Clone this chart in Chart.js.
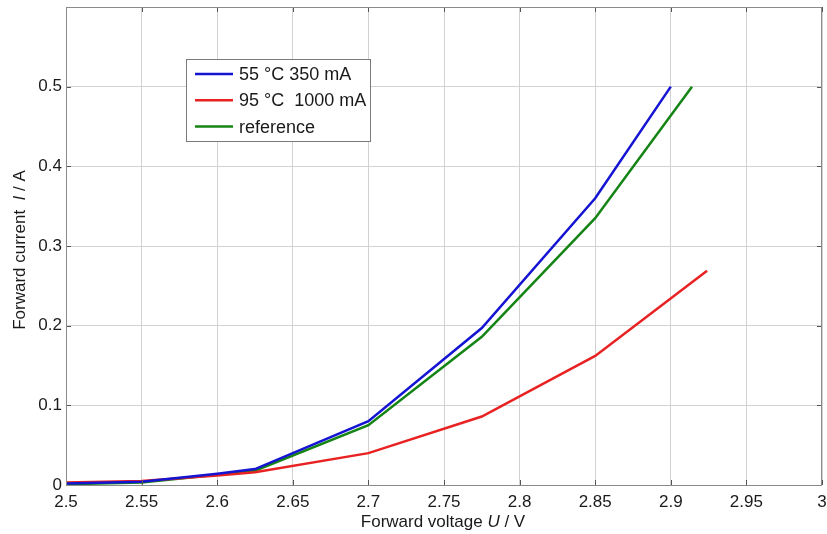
<!DOCTYPE html>
<html>
<head>
<meta charset="utf-8">
<script src="https://cdn.jsdelivr.net/npm/chart.js@4/dist/chart.umd.min.js"></script>
<style>
  html, body { margin: 0; padding: 0; background: #fff; }
  #wrap { width: 827px; height: 534px; }
</style>
</head>
<body>
<div id="wrap"><canvas id="chart"></canvas></div>
<script>
// values
const voltage55 = [2.5, 2.55, 2.6, 2.625, 2.7, 2.775, 2.85, 2.9];
const current55 = [0.002, 0.004, 0.014, 0.02, 0.08, 0.197, 0.36, 0.5];

const voltage95 = [2.5, 2.55, 2.6, 2.625, 2.7, 2.775, 2.85, 2.924];
const current95 = [0.003, 0.005, 0.012, 0.016, 0.04, 0.086, 0.162, 0.269];

const voltageRef = [2.5, 2.55, 2.6, 2.625, 2.7, 2.775, 2.85, 2.914];
const currentRef = [0.001, 0.003, 0.013, 0.018, 0.075, 0.186, 0.335, 0.5];

const seriesLabels = ["55 \u00B0C 350 mA", "95 \u00B0C  1000 mA", "reference"];
const seriesColors = ["#1414d2", "#e82222", "#148414"];

const xTicks = [2.5, 2.55, 2.6, 2.65, 2.7, 2.75, 2.8, 2.85, 2.9, 2.95, 3];
const yTicks = [0, 0.1, 0.2, 0.3, 0.4, 0.5, 0.6];

const FONT = "'Liberation Sans', Arial, sans-serif";

function pts(xs, ys) {
  return xs.map((x, i) => ({ x: x, y: ys[i] }));
}

// box, inner tick marks, legend and axis titles
const decor = {
  id: "decor",
  afterDraw(chart) {
    const ctx = chart.ctx;
    const a = chart.chartArea;
    const xs = chart.scales.x, ys = chart.scales.y;
    ctx.save();

    // tick marks on the inside of the box
    ctx.strokeStyle = "#555";
    ctx.lineWidth = 1;
    ctx.beginPath();
    xTicks.forEach(v => {
      const px = Math.round(xs.getPixelForValue(v)) + 0.5;
      ctx.moveTo(px, a.bottom); ctx.lineTo(px, a.bottom - 5);
      ctx.moveTo(px, a.top); ctx.lineTo(px, a.top + 5);
    });
    yTicks.forEach(v => {
      const py = Math.round(ys.getPixelForValue(v)) + 0.5;
      ctx.moveTo(a.left, py); ctx.lineTo(a.left + 5, py);
      ctx.moveTo(a.right, py); ctx.lineTo(a.right - 5, py);
    });
    ctx.stroke();

    // box
    ctx.strokeStyle = "#8a8a8a";
    ctx.strokeRect(Math.round(a.left) + 0.5, Math.round(a.top) + 0.5,
                   Math.round(a.right - a.left) - 1, Math.round(a.bottom - a.top));

    // legend
    const lx = 186, ly = 59, lw = 184, lh = 82;
    ctx.fillStyle = "#fff";
    ctx.fillRect(lx, ly, lw, lh);
    ctx.strokeStyle = "#7a7a7a";
    ctx.strokeRect(lx + 0.5, ly + 0.5, lw, lh);
    ctx.font = "18px " + FONT;
    ctx.textBaseline = "middle";
    ctx.textAlign = "left";
    chart.data.datasets.forEach((ds, i) => {
      const ry = 74 + i * 26.3;
      ctx.strokeStyle = ds.borderColor;
      ctx.lineWidth = 2.5;
      ctx.beginPath();
      ctx.moveTo(195, ry); ctx.lineTo(233, ry);
      ctx.stroke();
      ctx.fillStyle = "#1a1a1a";
      ctx.fillText(ds.label, 239, ry + 1);
    });

    // axis titles with italic symbols
    function mixed(parts, cx, cy) {
      let total = 0;
      parts.forEach(p => { ctx.font = (p[1] ? "italic " : "") + "17px " + FONT; total += ctx.measureText(p[0]).width; });
      let x = cx - total / 2;
      parts.forEach(p => {
        ctx.font = (p[1] ? "italic " : "") + "17px " + FONT;
        ctx.fillText(p[0], x, cy);
        x += ctx.measureText(p[0]).width;
      });
    }
    ctx.fillStyle = "#1a1a1a";
    ctx.textBaseline = "middle";
    ctx.textAlign = "left";
    mixed([["Forward voltage ", false], ["U", true], [" / V", false]], 443, 522);

    ctx.translate(20, 250);
    ctx.rotate(-Math.PI / 2);
    mixed([["Forward current  ", false], ["I", true], [" / A", false]], 0, 0);
    ctx.restore();
  }
};

new Chart(document.getElementById("chart"), {
  type: "line",
  data: {
    datasets: [
      { label: seriesLabels[0], data: pts(voltage55, current55), borderColor: seriesColors[0] },
      { label: seriesLabels[1], data: pts(voltage95, current95), borderColor: seriesColors[1] },
      { label: seriesLabels[2], data: pts(voltageRef, currentRef), borderColor: seriesColors[2] },
    ].map(d => Object.assign(d, { borderWidth: 2.5, pointRadius: 0, tension: 0, fill: false })),
  },
  options: {
    responsive: true,
    maintainAspectRatio: false,
    animation: false,
    layout: { padding: { left: 0, right: 5, top: 7, bottom: 0 } },
    plugins: { legend: { display: false }, tooltip: { enabled: false } },
    scales: {
      x: {
        type: "linear",
        min: 2.5,
        max: 3,
        afterBuildTicks: s => { s.ticks = xTicks.map(v => ({ value: v })); },
        afterFit: s => { s.height = 49; s.paddingLeft = 0; s.paddingRight = 0; },
        grid: { color: "#d2d2d2", drawTicks: false, lineWidth: 1 },
        border: { display: false },
        ticks: {
          padding: 7,
          color: "#1a1a1a",
          font: { family: FONT, size: 17 },
          maxRotation: 0,
          autoSkip: false,
          callback: v => String(Number(v.toFixed(2))),
        },
      },
      y: {
        min: 0,
        max: 0.6,
        afterBuildTicks: s => { s.ticks = yTicks.map(v => ({ value: v })); },
        afterFit: s => { s.width = 66; s.paddingTop = 0; s.paddingBottom = 0; },
        grid: { color: "#d2d2d2", drawTicks: false, lineWidth: 1 },
        border: { display: false },
        ticks: {
          padding: 4,
          color: "#1a1a1a",
          font: { family: FONT, size: 17 },
          callback: v => (v >= 0.59 ? "" : String(Number(v.toFixed(1)))),
        },
      },
    },
  },
  plugins: [decor],
});
</script>
</body>
</html>
